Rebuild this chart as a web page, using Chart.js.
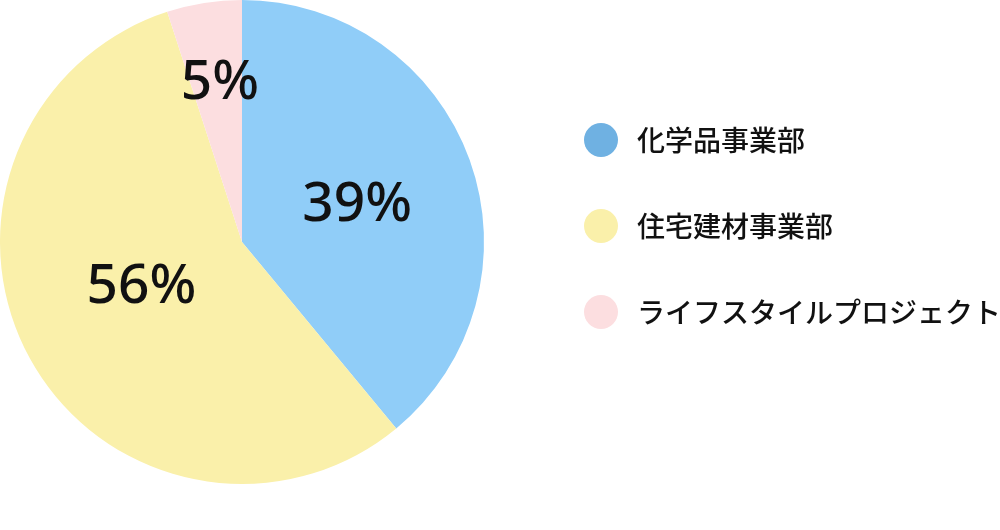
<!DOCTYPE html>
<html>
<head>
<meta charset="utf-8">
<script src="https://cdn.jsdelivr.net/npm/chart.js@4"></script>
<style>
  html, body { margin: 0; padding: 0; background: #fff; }
  #wrap { width: 1000px; height: 530px; position: relative; }
</style>
</head>
<body>
<div id="wrap"><canvas id="share-chart" width="1000" height="530"></canvas></div>
<script>
'use strict';

// data
var divisions = ['化学品事業部', '住宅建材事業部', 'ライフスタイルプロジェクト'];
var shares = [39, 56, 5];
var shareLabels = ['39%', '56%', '5%'];

var sliceColors = ['#90cdf8', '#faf0aa', '#fcdee0'];
var legendColors = ['#6fb1e2', '#faf0aa', '#fcdee0'];
// how far out from the centre each percentage sits (fraction of radius)
var labelRadius = [0.5, 0.455, 0.663];
var labelNudge = [2, 4.7, 1.1];

var sliceLabels = {
  id: 'sliceLabels',
  afterDatasetsDraw: function(chart) {
    var ctx = chart.ctx;
    var arcs = chart.getDatasetMeta(0).data;
    ctx.save();
    ctx.fillStyle = '#111';
    ctx.font = '500 55px "Noto Sans", sans-serif';
    ctx.textAlign = 'center';
    ctx.textBaseline = 'middle';
    for (var i = 0; i < arcs.length; i++) {
      var a = arcs[i];
      var mid = (a.startAngle + a.endAngle) / 2 + labelNudge[i] * Math.PI / 180;
      var r = a.outerRadius * labelRadius[i];
      ctx.fillText(shareLabels[i], a.x + Math.cos(mid) * r, a.y + Math.sin(mid) * r);
    }
    ctx.restore();
  }
};

var sideLegend = {
  id: 'sideLegend',
  afterDraw: function(chart) {
    var ctx = chart.ctx;
    ctx.save();
    ctx.font = '500 28px "Noto Sans CJK JP", sans-serif';
    ctx.textBaseline = 'middle';
    ctx.textAlign = 'left';
    for (var i = 0; i < divisions.length; i++) {
      var y = 140 + i * 86;
      ctx.fillStyle = legendColors[i];
      ctx.beginPath();
      ctx.arc(601, y, 17, 0, Math.PI * 2);
      ctx.fill();
      ctx.fillStyle = '#111';
      ctx.fillText(divisions[i], 637, y);
    }
    ctx.restore();
  }
};

var ctx = document.getElementById('share-chart').getContext('2d');

var shareChart = new Chart(ctx, {
  type: 'pie',
  data: {
    labels: divisions,
    datasets: [{
      data: shares,
      backgroundColor: sliceColors,
      borderWidth: 0
    }]
  },
  options: {
    responsive: false,
    animation: false,
    layout: { padding: { left: 0, top: 0, right: 516, bottom: 46 } },
    plugins: {
      legend: { display: false },
      tooltip: { enabled: false }
    }
  },
  plugins: [sliceLabels, sideLegend]
});
</script>
</body>
</html>
